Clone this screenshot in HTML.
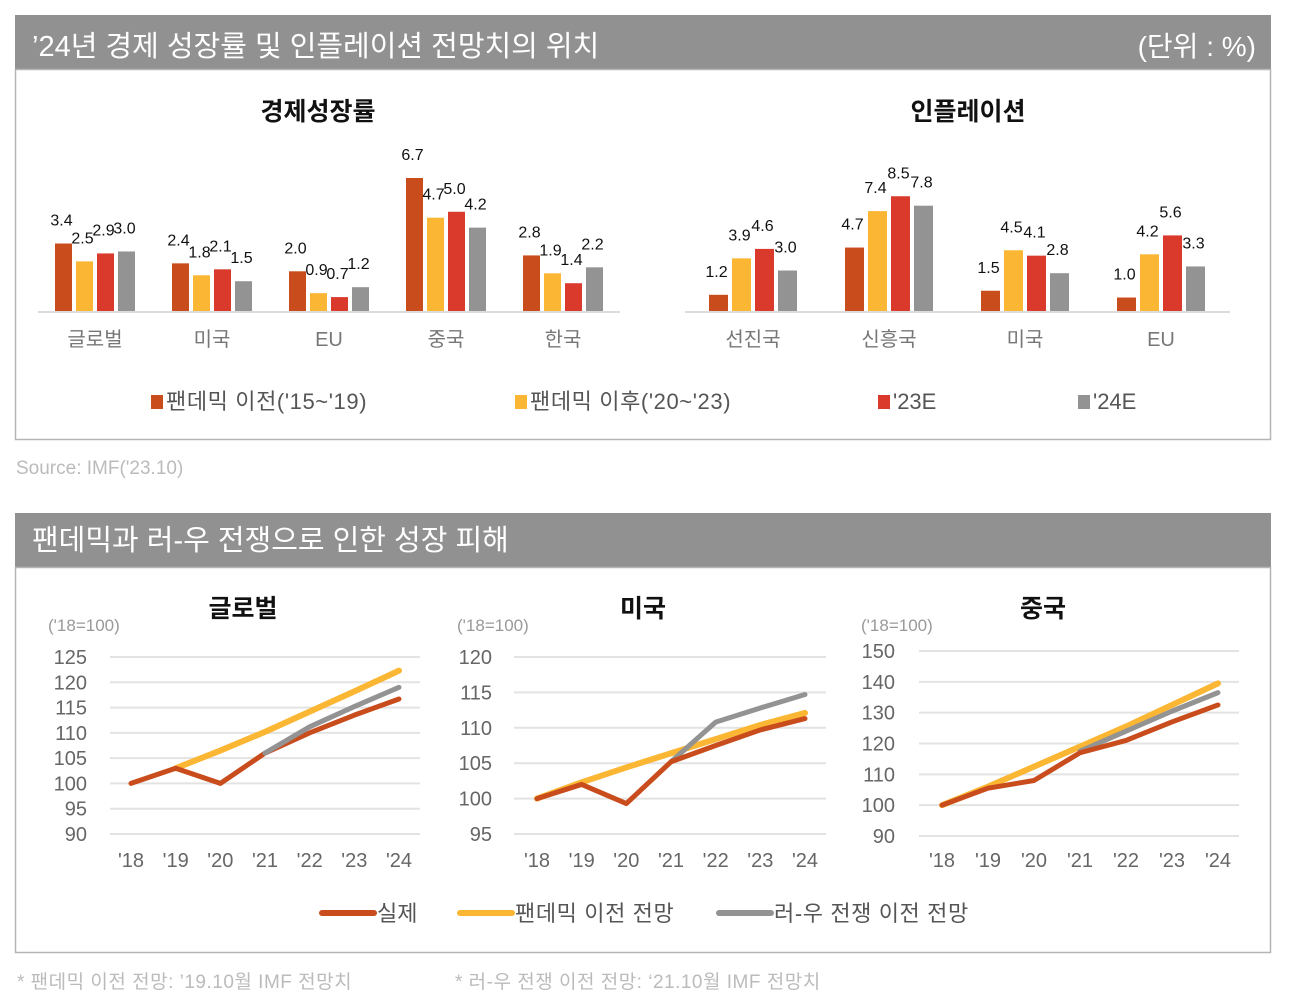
<!DOCTYPE html>
<html><head><meta charset="utf-8">
<style>
html,body{margin:0;padding:0;background:#fff;}
svg{display:block;font-family:"Liberation Sans","Noto Sans CJK KR",sans-serif;}
</style></head>
<body>
<svg id="root" width="1291" height="1006" viewBox="0 0 1291 1006" xmlns="http://www.w3.org/2000/svg">
  <rect x="15" y="15" width="1256" height="54" fill="#919191"/>
  <text x="32" y="56" font-size="29" fill="#fff">’24년 경제 성장률 및 인플레이션 전망치의 위치</text>
  <text x="1256" y="56" font-size="28" fill="#fff" text-anchor="end">(단위 : %)</text>
  <rect x="15.5" y="69.5" width="1255" height="370" fill="none" stroke="#b5b5b5" stroke-width="1.5"/>
  <text x="318" y="120" font-size="25" font-weight="bold" text-anchor="middle" fill="#111">경제성장률</text>
  <text x="968" y="120" font-size="25" font-weight="bold" text-anchor="middle" fill="#111">인플레이션</text>
  <line x1="38" y1="312" x2="620" y2="312" stroke="#dcdcdc" stroke-width="2"/>
  <line x1="685" y1="312" x2="1230" y2="312" stroke="#dcdcdc" stroke-width="2"/>
  <g id="bars1"></g><g id="bars2"></g>
  <g>
    <rect x="151" y="395" width="12" height="14" fill="#c94c1c"/>
    <text x="166" y="409" font-size="22" fill="#555" letter-spacing="0.6">팬데믹 이전('15~'19)</text>
    <rect x="515" y="395" width="12" height="14" fill="#fbb734"/>
    <text x="530" y="409" font-size="22" fill="#555" letter-spacing="0.6">팬데믹 이후('20~'23)</text>
    <rect x="878" y="395" width="12" height="14" fill="#d93a2b"/>
    <text x="893" y="409" font-size="22" fill="#555">'23E</text>
    <rect x="1078" y="395" width="12" height="14" fill="#939393"/>
    <text x="1093" y="409" font-size="22" fill="#555">'24E</text>
  </g>
  <text x="16" y="474" font-size="19" fill="#bbb">Source: IMF('23.10)</text>

  <rect x="15" y="513" width="1256" height="54" fill="#919191"/>
  <text x="32" y="550" font-size="29" fill="#fff">팬데믹과 러-우 전쟁으로 인한 성장 피해</text>
  <rect x="15.5" y="567.5" width="1255" height="385" fill="none" stroke="#b5b5b5" stroke-width="1.5"/>
  <g id="lines"></g>
  <g>
    <line x1="322" y1="913" x2="374" y2="913" stroke="#c94c1c" stroke-width="6" stroke-linecap="round"/>
    <text x="377" y="921" font-size="22" fill="#555">실제</text>
    <line x1="460" y1="913" x2="512" y2="913" stroke="#fbb734" stroke-width="6" stroke-linecap="round"/>
    <text x="515" y="921" font-size="22" fill="#555" letter-spacing="0.6">팬데믹 이전 전망</text>
    <line x1="719" y1="913" x2="771" y2="913" stroke="#939393" stroke-width="6" stroke-linecap="round"/>
    <text x="774" y="921" font-size="22" fill="#555" letter-spacing="0.6">러-우 전쟁 이전 전망</text>
  </g>
  <text x="17" y="988" font-size="19" fill="#bbb" letter-spacing="0.5">* 팬데믹 이전 전망: ’19.10월 IMF 전망치</text>
  <text x="455" y="988" font-size="19" fill="#bbb" letter-spacing="0.5">* 러-우 전쟁 이전 전망: ‘21.10월 IMF 전망치</text>
</svg>
<script>
const growthCats = ['글로벌','미국','EU','중국','한국'];
const growthPre = [3.4,2.4,2.0,6.7,2.8];
const growthPost = [2.5,1.8,0.9,4.7,1.9];
const growth23 = [2.9,2.1,0.7,5.0,1.4];
const growth24 = [3.0,1.5,1.2,4.2,2.2];
const inflCats = ['선진국','신흥국','미국','EU'];
const inflPre = [1.2,4.7,1.5,1.0];
const inflPost = [3.9,7.4,4.5,4.2];
const infl23 = [4.6,8.5,4.1,5.6];
const infl24 = [3.0,7.8,2.8,3.3];

const years = ["'18","'19","'20","'21","'22","'23","'24"];
const globalActual = [100,103,100,106,110,113.5,116.7];
const globalPre = [null,103,106.5,110.2,114.2,118.2,122.3];
const globalWar = [null,null,null,106,111.2,115.2,119];
const usActual = [100,102,99.3,105.2,107.5,109.7,111.3];
const usPre = [100,102.3,104.4,106.4,108.4,110.4,112.1];
const usWar = [null,null,null,105.2,110.8,112.8,114.7];
const cnActual = [100,105.5,108,117,121,127,132.5];
const cnPre = [100,106,112.5,119,125.5,132.5,139.5];
const cnWar = [null,null,null,117.5,124,130.5,136.5];
const globalTicks = [90,95,100,105,110,115,120,125];
const usTicks = [95,100,105,110,115,120];
const cnTicks = [90,100,110,120,130,140,150];

const NS='http://www.w3.org/2000/svg';
const colors=['#c94c1c','#fbb734','#d93a2b','#939393'];
function mk(tag,attrs,parent){const e=document.createElementNS(NS,tag);for(const k in attrs)e.setAttribute(k,attrs[k]);parent.appendChild(e);return e;}

function barChart(gid,cats,series,x0,step,bw,gap,base,scale,catY){
  const g=document.getElementById(gid);
  cats.forEach((c,i)=>{
    const cx=x0+i*step;
    const total=4*bw+3*gap;
    series.forEach((s,j)=>{
      const v=s[i];
      const x=cx-total/2+j*(bw+gap);
      const h=v*scale;
      const r=mk('rect',{x:x,y:base-h,width:bw,height:h,fill:colors[j]},g);
      
      
      const t=mk('text',{x:x+bw/2-2,y:base-h-18,'font-size':16,'text-anchor':'middle',fill:'#111'},g);
      t.textContent=v.toFixed(1);
      
      
    });
    const l=mk('text',{x:cx,y:catY,'font-size':20,'text-anchor':'middle',fill:'#777'},g);
    l.textContent=c;
    
    
  });
}
barChart('bars1',growthCats,[growthPre,growthPost,growth23,growth24],95,117,17,4,311,19.85,346);
barChart('bars2',inflCats,[inflPre,inflPost,infl23,infl24],753,136,19,4,311,13.5,346);

function lineChart(cfg){
  const g=mk('g',{},document.getElementById('lines'));
  
  
  const ymin=cfg.ticks[0],ymax=cfg.ticks[cfg.ticks.length-1];
  const Y=v=>cfg.yTop+(ymax-v)/(ymax-ymin)*(cfg.yBot-cfg.yTop);
  const X=i=>cfg.x18+i*(cfg.x24-cfg.x18)/(years.length-1);
  cfg.ticks.forEach(t=>{
    const ln=mk('line',{x1:cfg.gx1,x2:cfg.gx2,y1:Y(t),y2:Y(t),stroke:'#e3e3e3','stroke-width':2},g);
    
    
    const tx=mk('text',{x:cfg.tickX,y:Y(t)+7,'font-size':20,'text-anchor':'end',fill:'#666'},g);
    tx.textContent=t;
    
    
  });
  years.forEach((yr,i)=>{
    const tx=mk('text',{x:X(i),y:867,'font-size':20,'text-anchor':'middle',fill:'#666'},g);
    tx.textContent=yr;
    
    
  });
  [[cfg.pre,'#fbb734','pre-pandemic-line'],[cfg.war,'#939393','pre-war-line'],[cfg.actual,'#c94c1c','actual-line']].forEach(([d,col,nm])=>{
    const pts=[];d.forEach((v,i)=>{if(v!==null)pts.push(X(i)+','+Y(v));});
    const p=mk('polyline',{points:pts.join(' '),fill:'none',stroke:col,'stroke-width':nm==='pre-pandemic-line'?6:5,'stroke-linecap':'round','stroke-linejoin':'round'},g);
    
    
  });
  if(cfg.id==='global'){const a=g.lastChild;g.insertBefore(a,g.lastChild.previousSibling);}
  const tt=mk('text',{x:cfg.titleX,y:617,'font-size':25,'font-weight':'bold','text-anchor':'middle',fill:'#111'},g);
  tt.textContent=cfg.title;
  
  
  const u=mk('text',{x:cfg.unitX,y:631,'font-size':17,fill:'#999'},g);
  u.textContent="('18=100)";
  
  
}
lineChart({id:'global',title:'글로벌',titleX:243,unitX:48,ticks:globalTicks,yTop:657,yBot:834,x18:131,x24:399,gx1:110,gx2:420,tickX:87,actual:globalActual,pre:globalPre,war:globalWar});
lineChart({id:'us',title:'미국',titleX:643,unitX:457,ticks:usTicks,yTop:657,yBot:834,x18:537,x24:805,gx1:514,gx2:826,tickX:492,actual:usActual,pre:usPre,war:usWar});
lineChart({id:'china',title:'중국',titleX:1043,unitX:861,ticks:cnTicks,yTop:651,yBot:836,x18:942,x24:1218,gx1:919,gx2:1239,tickX:895,actual:cnActual,pre:cnPre,war:cnWar});
</script>
</body></html>
